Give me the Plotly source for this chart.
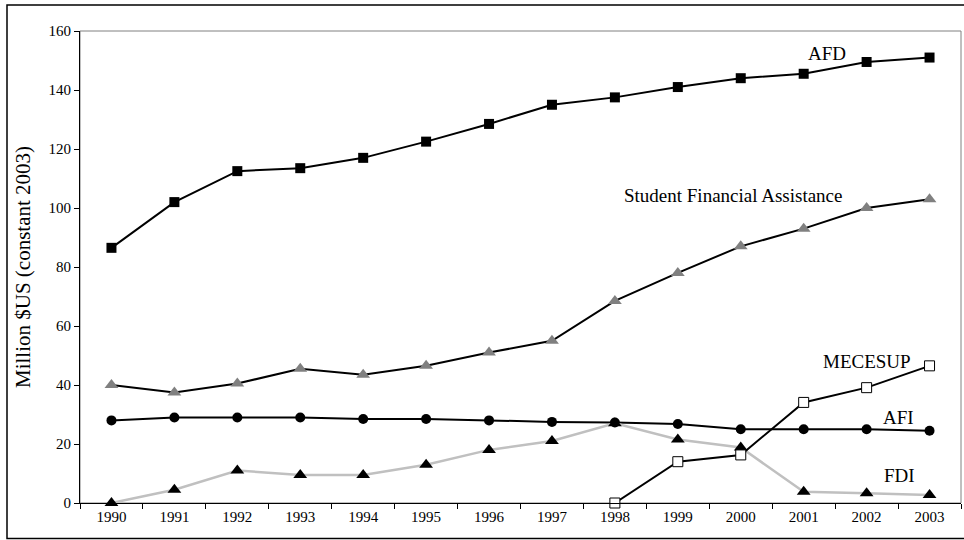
import plotly.graph_objects as go

years = [str(y) for y in range(1990, 2004)]
afd = [86.5, 102, 112.5, 113.5, 117, 122.5, 128.5, 135, 137.5, 141, 144, 145.5, 149.5, 151]
sfa = [40, 37.5, 40.5, 45.5, 43.5, 46.5, 51, 55, 68.5, 78, 87, 93, 100, 103]
afi = [28, 29, 29, 29, 28.5, 28.5, 28, 27.5, 27.3, 26.8, 25, 25, 25, 24.5]
fdi = [0, 4.5, 11, 9.5, 9.5, 13, 18, 21, 27, 21.5, 18.8, 3.8, 3.3, 2.7]
mecesup = [None] * 8 + [0, 14, 16.3, 34.1, 39.1, 46.5]
y_ticks = [0, 20, 40, 60, 80, 100, 120, 140, 160]

FONT = "Liberation Serif"
W, H = 964, 540
L, R, T, B = 80, 3, 31, 37
pw, ph = W - L - R, H - T - B

def px(x):
    return (x - L) / pw

def py(y):
    return (H - B - y) / ph

fig = go.Figure()
fig.add_trace(go.Scatter(x=years, y=afd, mode="lines+markers", name="AFD",
                         line=dict(color="black", width=2),
                         marker=dict(symbol="square", size=10, color="black"),
                         cliponaxis=False))
fig.add_trace(go.Scatter(x=years, y=sfa, mode="lines+markers", name="Student Financial Assistance",
                         line=dict(color="black", width=2),
                         marker=dict(symbol="triangle-up", size=12, color="#808080"),
                         cliponaxis=False))
fig.add_trace(go.Scatter(x=years, y=afi, mode="lines+markers", name="AFI",
                         line=dict(color="black", width=2),
                         marker=dict(symbol="circle", size=10, color="black"),
                         cliponaxis=False))
fig.add_trace(go.Scatter(x=years, y=fdi, mode="lines+markers", name="FDI",
                         line=dict(color="#c0c0c0", width=2.5),
                         marker=dict(symbol="triangle-up", size=12, color="black"),
                         cliponaxis=False))
fig.add_trace(go.Scatter(x=years, y=mecesup, mode="lines+markers", name="MECESUP",
                         line=dict(color="black", width=2),
                         marker=dict(symbol="square", size=10, color="white",
                                     line=dict(color="black", width=1)),
                         cliponaxis=False, connectgaps=False))

labels = [
    ("AFD", 827, 54),
    ("Student Financial Assistance", 733, 196),
    ("MECESUP", 867, 361),
    ("AFI", 898, 417),
    ("FDI", 899, 475),
]
for text, x, y in labels:
    fig.add_annotation(x=px(x), y=py(y), xref="paper", yref="paper", text=text,
                       showarrow=False, font=dict(family=FONT, size=19, color="black"),
                       xanchor="center", yanchor="middle")

# plot area frame (gray top/right) and outer black border
fig.add_shape(type="rect", xref="paper", yref="paper", x0=0, x1=1, y0=0, y1=1,
              line=dict(color="#808080", width=1), layer="below")
fig.add_shape(type="rect", xref="paper", yref="paper",
              x0=px(7), x1=px(975), y0=py(538.5), y1=py(5),
              line=dict(color="black", width=1.5), layer="below")

fig.update_layout(
    width=W, height=H,
    margin=dict(l=L, r=R, t=T, b=B, autoexpand=False),
    paper_bgcolor="white", plot_bgcolor="white",
    showlegend=False,
    font=dict(family=FONT, color="black"),
    xaxis=dict(type="category", tickson="boundaries", ticks="outside", ticklen=5,
               tickcolor="black", showline=True, linecolor="black", linewidth=1,
               showgrid=False, zeroline=False, range=[-0.5, 13.5],
               tickfont=dict(family=FONT, size=15)),
    yaxis=dict(range=[0, 160], tickvals=y_ticks, ticks="outside", ticklen=5,
               tickcolor="black", showline=True, linecolor="black", linewidth=1,
               showgrid=False, zeroline=False,
               tickfont=dict(family=FONT, size=15),
               title=dict(text="Million $US (constant 2003)", standoff=12,
                          font=dict(family=FONT, size=21))),
)

fig.write_html("out.html", config={"displayModeBar": False},
               post_script="document.body.style.margin='0';")
